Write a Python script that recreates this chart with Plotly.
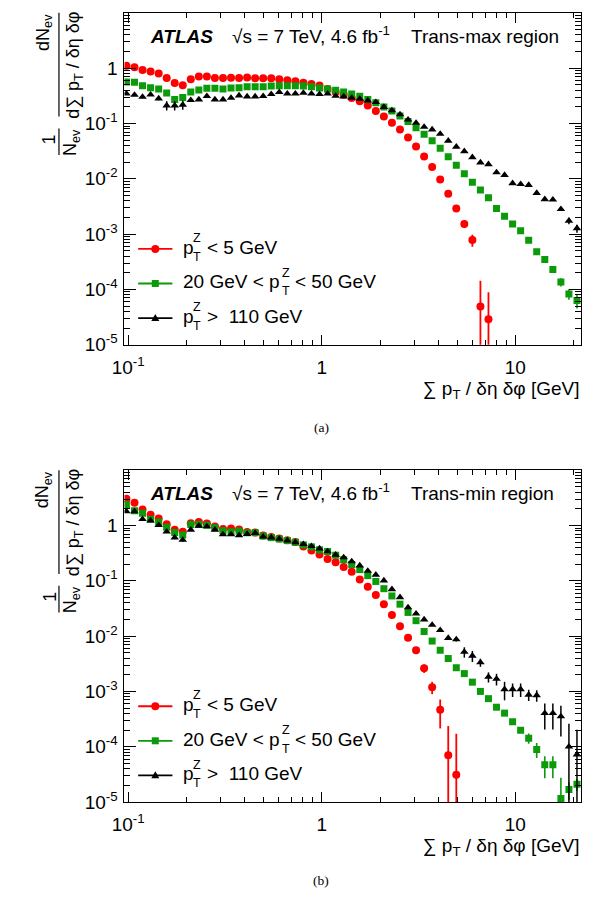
import plotly.graph_objects as go

W, H = 591, 897
FONT = "Liberation Sans, Arial, Helvetica, sans-serif"
SERIF = "Liberation Serif, Times New Roman, serif"
RED, GREEN, BLACK = "#ff0000", "#0a9a0a", "#000000"

# bin centres of sum pT / (deta dphi) [GeV]
X = [0.098, 0.1079, 0.1187, 0.1306, 0.1438, 0.1582, 0.1740, 0.1915, 0.2107, 0.2319,
     0.2551, 0.2807, 0.3090, 0.3400, 0.3741, 0.4117, 0.4530, 0.4984, 0.5485, 0.6035,
     0.6641, 0.7308, 0.8041, 0.8849, 0.9741, 1.072, 1.180, 1.298, 1.428, 1.572,
     1.729, 1.903, 2.094, 2.304, 2.536, 2.791, 3.070, 3.379, 3.718, 4.091,
     4.502, 4.954, 5.451, 5.998, 6.601, 7.263, 7.993, 8.796, 9.678, 10.65,
     11.72, 12.89, 14.19, 15.62, 17.19, 18.91, 20.81]

# ---- (a) Trans-max region ----
MAX_LOW = [1.10, 1.04, 0.93, 0.873, 0.804, 0.662, 0.538, 0.490, 0.627, 0.710,
           0.710, 0.662, 0.662, 0.670, 0.662, 0.681, 0.654, 0.654, 0.654, 0.627,
           0.602, 0.578, 0.545, 0.517, 0.484, 0.42, 0.37, 0.33, 0.29, 0.253,
           0.211, 0.168, 0.134, 0.103, 0.0774, 0.0557, 0.0384, 0.0254, 0.0163, 0.0097,
           0.00536, 0.00289, 0.00152, 0.00078, 4.9e-5, 2.9e-5]
MAX_LOW_ERR = [0] * 41 + [1.0e-4, 2.1e-4, 1.9e-4, 9.5e-5, 6.0e-5]

MAX_MID = [0.561, 0.554, 0.482, 0.444, 0.420, 0.356, 0.270, 0.294, 0.371, 0.403,
           0.433, 0.433, 0.420, 0.438, 0.444, 0.462, 0.462, 0.462, 0.476, 0.482,
           0.482, 0.482, 0.476, 0.462, 0.438, 0.420, 0.398, 0.371, 0.342, 0.311,
           0.270, 0.236, 0.198, 0.168, 0.136, 0.108, 0.0841, 0.0638, 0.0486, 0.0358,
           0.0251, 0.0175, 0.0123, 0.00869, 0.00625, 0.00455, 0.00289, 0.00211, 0.00152, 0.00115,
           0.00077, 0.000478, 0.000348, 0.00023, 0.000136, 8.3e-5, 6.3e-5]
MAX_MID_ERR = [0] * 52 + [1.2e-5, 1.2e-5, 2.3e-5, 1.8e-5, 1.8e-5]

MAX_HIGH = [0.346, 0.328, 0.302, 0.332, 0.282, 0.211, 0.211, 0.217, 0.264, 0.270,
            0.311, 0.270, 0.270, 0.290, 0.319, 0.306, 0.306, 0.311, 0.338, 0.367,
            0.346, 0.346, 0.356, 0.346, 0.338, 0.346, 0.315, 0.306, 0.290, 0.278,
            0.259, 0.243, 0.198, 0.172, 0.146, 0.117, 0.102, 0.0866, 0.0774, 0.0648,
            0.0486, 0.0379, 0.0313, 0.0244, 0.0196, 0.0183, 0.0130, 0.0117, 0.00828, 0.00800,
            0.00768, 0.00552, 0.00426, 0.00419, 0.00282, 0.00174, 0.00127]
MAX_HIGH_ERR = ([0.015, 0.015, 0.015, 0.015, 0.02, 0.04, 0.04, 0.04] + [0] * 46
                + [1.5e-4, 2.4e-4, 2.1e-4])

# ---- (b) Trans-min region ----
MIN_LOW = [3.04, 2.57, 1.95, 1.57, 1.33, 1.05, 0.837, 0.771, 1.10, 1.16,
           1.09, 0.96, 0.86, 0.88, 0.85, 0.76, 0.75, 0.66, 0.62, 0.58,
           0.54, 0.50, 0.416, 0.353, 0.299, 0.247, 0.216, 0.178, 0.145, 0.106,
           0.0782, 0.0555, 0.0378, 0.0240, 0.0151, 0.00933, 0.00555, 0.00261, 0.00119, 0.000464,
           7.0e-5, 3.1e-5]
MIN_LOW_ERR = [0] * 37 + [4.5e-4, 3.0e-4, 2.5e-4, 1.67e-4, 1.4e-4]

MIN_MID = [2.37, 1.85, 1.66, 1.30, 1.16, 0.933, 0.750, 0.671, 1.04, 1.04,
           1.01, 0.908, 0.804, 0.771, 0.792, 0.740, 0.740, 0.645, 0.603, 0.570,
           0.533, 0.497, 0.445, 0.410, 0.363, 0.339, 0.29, 0.240, 0.196, 0.159,
           0.124, 0.0973, 0.0720, 0.0532, 0.0378, 0.0268, 0.0190, 0.0121, 0.00814, 0.00555,
           0.00393, 0.00268, 0.00210, 0.00147, 0.00100, 0.00074, 0.000518, 0.000405, 0.000283, 0.000199,
           0.000143, 8.95e-5, 4.7e-5, 4.7e-5, 1.16e-5, 1.69e-5, 2.1e-5]
MIN_MID_ERR = [0] * 48 + [1.5e-5, 2.0e-5, 3.0e-5, 2.7e-5, 2.0e-5, 2.0e-5, 1.6e-5, 6e-6, 5e-6]

MIN_HIGH = [1.80, 1.80, 1.30, 1.23, 1.01, 0.771, 0.603, 0.547, 0.837, 0.986,
            0.96, 0.837, 0.690, 0.690, 0.663, 0.70, 0.729, 0.628, 0.603, 0.570,
            0.533, 0.497, 0.458, 0.422, 0.383, 0.339, 0.295, 0.265, 0.224, 0.188,
            0.151, 0.128, 0.101, 0.070, 0.0503, 0.0330, 0.0254, 0.0199, 0.0159, 0.0128,
            0.0092, 0.0087, 0.00518, 0.00440, 0.00334, 0.00183, 0.00168, 0.00109, 0.00109, 0.00109,
            0.00087, 0.00085, 0.000405, 0.000405, 0.000353, 0.000100, 7.2e-5]
MIN_HIGH_ERR = ([0, 0, 0, 0, 0.02, 0.04, 0.04, 0.04] + [0] * 30
                + [5e-4, 5e-4, 7e-4, 7e-4, 1.1e-3, 1.0e-3, 5.5e-4, 3.8e-4, 4e-4, 4e-4,
                   3e-4, 3e-4, 2e-4, 2e-4, 2e-4, 2e-4, 2e-4, 1.6e-4, 1.3e-4])

X_TICKS = [0.1, 1, 10]
X_TICKTEXT = ["10<sup>-1</sup>", "1", "10"]
Y_TICKS = [1e-5, 1e-4, 1e-3, 1e-2, 1e-1, 1]
Y_TICKTEXT = ["10<sup>-5</sup>", "10<sup>-4</sup>", "10<sup>-3</sup>",
              "10<sup>-2</sup>", "10<sup>-1</sup>", "1"]
LEGEND = [("p", "&lt; 5 GeV"), ("20 GeV &lt; p", "&lt; 50 GeV"), ("p", "&gt;&nbsp; 110 GeV")]


def px(x):
    return x / W


def py(y):
    return 1 - y / H


fig = go.Figure()

STYLES = [(RED, "circle", 8, 1.8), (GREEN, "square", 7, 1.6), (BLACK, "triangle-up", 7.5, 1.5)]
panels = [
    ("x", "y", [(MAX_LOW, MAX_LOW_ERR), (MAX_MID, MAX_MID_ERR), (MAX_HIGH, MAX_HIGH_ERR)]),
    ("x2", "y2", [(MIN_LOW, MIN_LOW_ERR), (MIN_MID, MIN_MID_ERR), (MIN_HIGH, MIN_HIGH_ERR)]),
]
for xa, ya, series in panels:
    for (vals, errs), (col, sym, size, thick) in zip(series, STYLES):
        fig.add_trace(go.Scatter(
            x=X[:len(vals)], y=vals, xaxis=xa, yaxis=ya, mode="markers",
            marker=dict(color=col, symbol=sym, size=size, line=dict(width=0)),
            error_y=dict(type="data", array=errs, visible=True, color=col,
                         thickness=thick, width=0),
            showlegend=False, cliponaxis=True))

x_minor = [k * 10 ** e for e in (-1, 0, 1) for k in range(2, 10)]
y_minor = [k * 10.0 ** e for e in range(-5, 1) for k in range(2, 10)]

tickfont = dict(family=FONT, size=19, color="black")
xcommon = dict(type="log", range=[-1.0187, 1.3402], tickmode="array",
               tickvals=X_TICKS, ticktext=X_TICKTEXT, ticks="inside", ticklen=10,
               tickwidth=1, tickcolor="black", showline=True, linecolor="black",
               linewidth=1, mirror="allticks", showgrid=False, zeroline=False,
               tickfont=tickfont, ticklabelstandoff=5,
               minor=dict(tickmode="array", tickvals=x_minor, ticks="inside",
                          ticklen=5, tickwidth=1, tickcolor="black", showgrid=False),
               domain=[px(114), px(581)])
ycommon = dict(type="log", range=[-5, 1], tickmode="array",
               tickvals=Y_TICKS, ticktext=Y_TICKTEXT, ticks="inside", ticklen=12,
               tickwidth=1, tickcolor="black", showline=True, linecolor="black",
               linewidth=1, mirror="allticks", showgrid=False, zeroline=False,
               tickfont=tickfont, ticklabelstandoff=2,
               minor=dict(tickmode="array", tickvals=y_minor, ticks="inside",
                          ticklen=6, tickwidth=1, tickcolor="black", showgrid=False))

ANN = []
SHAPES = []


def ann(text, x, y, size=19, xanchor="left", yanchor="middle", angle=0, family=FONT):
    ANN.append(dict(text=text, x=px(x), y=py(y), xref="paper", yref="paper",
                    xanchor=xanchor, yanchor=yanchor, showarrow=False,
                    textangle=angle, font=dict(family=family, size=size, color="black")))


def line(x0, y0, x1, y1, color="black", width=1.2):
    SHAPES.append(dict(type="line", xref="paper", yref="paper", x0=px(x0), y0=py(y0),
                       x1=px(x1), y1=py(y1), line=dict(color=color, width=width)))


for dy, region, tag, tag_y in [(0, "Trans-max region", "(a)", 433), (463, "Trans-min region", "(b)", 891)]:
    ann("<b><i>ATLAS</i></b>", 138, 36.5 + dy)
    ann("√s = 7 TeV, 4.6 fb<sup>-1</sup>", 222, 35.5 + dy)
    ann(region, 405, 36.5 + dy)
    # legend
    for k, ((pre, post), (col, sym, size, thick)) in enumerate(zip(LEGEND, STYLES)):
        yc = 252 + 35 * k + dy
        line(128, yc, 163, yc, col, 1.8)
        if sym == "circle":
            SHAPES.append(dict(type="circle", xref="paper", yref="paper",
                               xsizemode="pixel", ysizemode="pixel",
                               xanchor=px(145.5), yanchor=py(yc), x0=-4, x1=4, y0=-4, y1=4,
                               fillcolor=col, line=dict(width=0)))
        elif sym == "square":
            SHAPES.append(dict(type="rect", xref="paper", yref="paper",
                               xsizemode="pixel", ysizemode="pixel",
                               xanchor=px(145.5), yanchor=py(yc), x0=-3.5, x1=3.5, y0=-3.5, y1=3.5,
                               fillcolor=col, line=dict(width=0)))
        else:
            SHAPES.append(dict(type="path", xref="paper", yref="paper",
                               xsizemode="pixel", ysizemode="pixel",
                               xanchor=px(145.5), yanchor=py(yc),
                               path="M -4,-3 L 4,-3 L 0,4 Z",
                               fillcolor=col, line=dict(width=0)))
        ann(pre, 171.5, yc - 1.5)
        zx = 182 if pre == "p" else 272.5
        ann("Z", zx, yc - 11, size=12.5)
        ann("T", zx, yc + 8, size=12.5)
        ann(post, zx + 14, yc - 1.5)
    # x-axis title
    ann("∑ p<sub>T</sub> / δη δφ [GeV]", 582, 395 + dy, xanchor="right")
    # y-axis title (rotated fractions)
    ann("1", 37, 141 + dy, size=18, xanchor="center", angle=-90)
    line(47, 130 + dy, 47, 157 + dy)
    ann("N<sub>ev</sub>", 60, 144 + dy, size=18, xanchor="center", angle=-90)
    ann("dN<sub>ev</sub>", 32, 33 + dy, size=18, xanchor="center", angle=-90)
    line(47, 13 + dy, 47, 118 + dy)
    ann("d∑ p<sub>T</sub> / δη δφ", 63, 66 + dy, size=18, xanchor="center", angle=-90)
    ann(tag, 315, tag_y, size=13.5, xanchor="center", family=SERIF)

fig.update_layout(
    width=W, height=H, margin=dict(l=0, r=0, t=0, b=0),
    paper_bgcolor="white", plot_bgcolor="white", showlegend=False,
    xaxis=dict(xcommon, anchor="y"),
    yaxis=dict(ycommon, anchor="x", domain=[py(349), py(13)]),
    xaxis2=dict(xcommon, anchor="y2"),
    yaxis2=dict(ycommon, anchor="x2", domain=[py(812), py(476)]),
    annotations=ANN, shapes=SHAPES,
)

fig.write_html("out.html")
